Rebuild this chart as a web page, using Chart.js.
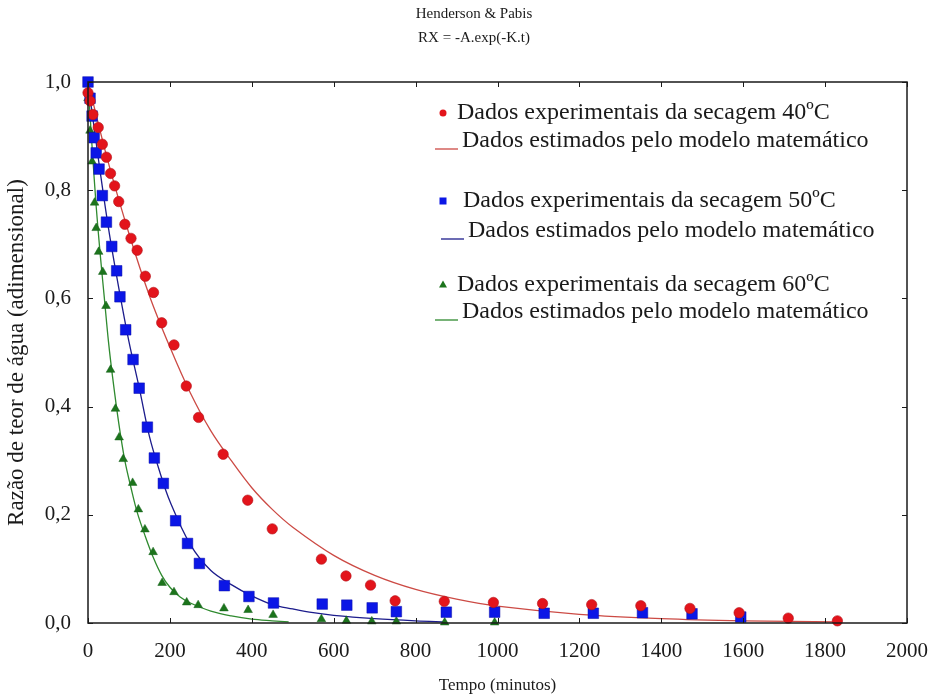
<!DOCTYPE html>
<html>
<head>
<meta charset="utf-8">
<script src="https://cdn.jsdelivr.net/npm/chart.js@4.4.1/dist/chart.umd.min.js"></script>
<style>
  html, body { margin: 0; padding: 0; background: #fff; }
  #wrap { width: 936px; height: 699px; }
</style>
</head>
<body>
<div id="wrap"><canvas id="c" width="936" height="699"></canvas></div>
<script>
// experimental points, 40 C
const redT = [0, 5, 12, 25, 35, 45, 55, 65, 75, 90, 105, 120, 140, 160, 180, 210, 240, 270, 330, 390, 450, 570, 630, 690, 750, 870, 990, 1110, 1230, 1350, 1470, 1590, 1710, 1830]
const redRX = [0.98, 0.965, 0.94, 0.916, 0.885, 0.861, 0.831, 0.808, 0.779, 0.737, 0.711, 0.689, 0.641, 0.611, 0.555, 0.514, 0.438, 0.38, 0.312, 0.227, 0.174, 0.118, 0.087, 0.07, 0.041, 0.04, 0.038, 0.036, 0.034, 0.032, 0.027, 0.019, 0.009, 0.004]

// experimental points, 50 C
const blueT = [0, 5, 10, 15, 20, 27, 35, 45, 58, 70, 78, 92, 110, 125, 145, 162, 184, 214, 243, 272, 333, 393, 453, 572, 632, 694, 753, 875, 993, 1114, 1234, 1354, 1475, 1594]
const blueRX = [1.0, 0.97, 0.937, 0.897, 0.869, 0.839, 0.79, 0.741, 0.696, 0.651, 0.603, 0.542, 0.487, 0.434, 0.362, 0.305, 0.258, 0.189, 0.147, 0.11, 0.069, 0.049, 0.037, 0.035, 0.033, 0.028, 0.021, 0.02, 0.02, 0.018, 0.018, 0.019, 0.017, 0.011]

// experimental points, 60 C
const greenT = [0, 5, 10, 16, 20, 26, 36, 44, 55, 67, 76, 86, 109, 123, 139, 159, 181, 210, 241, 269, 332, 391, 452, 570, 631, 693, 753, 871, 993]
const greenRX = [0.97, 0.91, 0.853, 0.777, 0.73, 0.686, 0.649, 0.586, 0.468, 0.396, 0.343, 0.303, 0.259, 0.21, 0.173, 0.131, 0.074, 0.057, 0.038, 0.033, 0.027, 0.024, 0.015, 0.007, 0.004, 0.003, 0.003, 0.001, 0.001]

// model curves
const redFitT = [0, 50, 100, 150, 200, 250, 300, 350, 400, 450, 500, 600, 700, 800, 900, 1000, 1200, 1400, 1600, 1830]
const redFitRX = [1.0, 0.85, 0.72, 0.605, 0.51, 0.425, 0.355, 0.3, 0.25, 0.21, 0.177, 0.125, 0.088, 0.062, 0.044, 0.031, 0.016, 0.008, 0.004, 0.002]
const blueFitT = [0, 25, 50, 75, 100, 125, 150, 175, 200, 250, 300, 350, 400, 450, 500, 550, 600, 700, 800, 875]
const blueFitRX = [1.0, 0.86, 0.73, 0.62, 0.52, 0.435, 0.345, 0.28, 0.225, 0.145, 0.097, 0.071, 0.05, 0.034, 0.026, 0.019, 0.014, 0.008, 0.004, 0.002]
const greenFitT = [0, 10, 20, 30, 40, 50, 60, 75, 90, 105, 120, 140, 160, 180, 200, 225, 250, 300, 350, 400, 450, 490]
const greenFitRX = [1.0, 0.88, 0.77, 0.68, 0.6, 0.52, 0.455, 0.37, 0.3, 0.25, 0.205, 0.16, 0.12, 0.088, 0.066, 0.048, 0.037, 0.022, 0.013, 0.007, 0.004, 0.002]

const xTicks = [0, 200, 400, 600, 800, 1000, 1200, 1400, 1600, 1800, 2000]
const yTickLabels = ['0,0', '0,2', '0,4', '0,6', '0,8', '1,0']

const titleLines = ['Henderson & Pabis', 'RX = -A.exp(-K.t)']
const xTitle = 'Tempo (minutos)'
const yTitle = 'Razão de teor de água (adimensional)'
const legendTexts = [
    'Dados experimentais da secagem 40ºC',
    'Dados estimados pelo modelo matemático',
    'Dados experimentais da secagem 50ºC',
    'Dados estimados pelo modelo matemático',
    'Dados experimentais da secagem 60ºC',
    'Dados estimados pelo modelo matemático'
]

const RED = '#e3141b', BLUE = '#0b16e6', GREEN = '#1c741c'
const RED_LINE = '#cc4a44', BLUE_LINE = '#1c1c8c', GREEN_LINE = '#2f8a2f'
const INK = '#1a1a1a'
const SERIF = '"Liberation Serif", "DejaVu Serif", serif'

function pts(xs, ys) {
    return xs.map((x, i) => ({x: x, y: ys[i]}))
}

// title, frame, inward ticks and the hand-laid legend
const framePlugin = {
    id: 'frame',
    afterDatasetsDraw(chart) {
        const ctx = chart.ctx
        const a = chart.chartArea
        const x = chart.scales.x, y = chart.scales.y
        ctx.save()

        ctx.fillStyle = INK
        ctx.font = '15px ' + SERIF
        ctx.textAlign = 'center'
        ctx.textBaseline = 'middle'
        ctx.fillText(titleLines[0], 474, 14)
        ctx.fillText(titleLines[1], 474, 38)

        ctx.strokeStyle = INK
        ctx.lineWidth = 1.5
        ctx.strokeRect(a.left, a.top, a.right - a.left, a.bottom - a.top)
        ctx.lineWidth = 1
        ctx.beginPath()
        for (const v of xTicks) {
            const px = Math.round(x.getPixelForValue(v)) + 0.5
            ctx.moveTo(px, a.bottom); ctx.lineTo(px, a.bottom - 5)
            ctx.moveTo(px, a.top); ctx.lineTo(px, a.top + 5)
        }
        for (let i = 0; i < yTickLabels.length; i++) {
            const py = Math.round(y.getPixelForValue(i * 0.2)) + 0.5
            ctx.moveTo(a.left, py); ctx.lineTo(a.left + 5, py)
            ctx.moveTo(a.right, py); ctx.lineTo(a.right - 5, py)
        }
        ctx.stroke()

        // legend
        ctx.font = '24px ' + SERIF
        ctx.textAlign = 'left'
        const rows = [113, 141, 201, 231, 285, 312]
        const markX = [443, 443, 443]
        const textX = [457, 462, 463, 468, 457, 462]
        const lineCol = [RED_LINE, BLUE_LINE, GREEN_LINE]
        for (let g = 0; g < 3; g++) {
            const r1 = rows[g * 2], r2 = rows[g * 2 + 1]
            ctx.fillStyle = INK
            ctx.fillText(legendTexts[g * 2], textX[g * 2], r1)
            ctx.fillText(legendTexts[g * 2 + 1], textX[g * 2 + 1], r2)
            const mx = markX[g]
            if (g == 0) {
                ctx.fillStyle = RED
                ctx.beginPath(); ctx.arc(mx, r1, 3.5, 0, Math.PI * 2); ctx.fill()
            } else if (g == 1) {
                ctx.fillStyle = BLUE
                ctx.fillRect(mx - 3.5, r1 - 3.5, 7, 7)
            } else {
                ctx.fillStyle = GREEN
                ctx.beginPath(); ctx.moveTo(mx, r1 - 4.5); ctx.lineTo(mx + 4, r1 + 2.5); ctx.lineTo(mx - 4, r1 + 2.5); ctx.closePath(); ctx.fill()
            }
            ctx.strokeStyle = lineCol[g]
            ctx.lineWidth = 1.3
            ctx.beginPath()
            ctx.moveTo(textX[g * 2 + 1] - 27, r2 + 8); ctx.lineTo(textX[g * 2 + 1] - 4, r2 + 8)
            ctx.stroke()
        }
        ctx.restore()
    }
}

new Chart(document.getElementById('c'), {
    type: 'scatter',
    data: {
        datasets: [
            {type: 'line', data: pts(redFitT, redFitRX), borderColor: RED_LINE, borderWidth: 1.3, pointRadius: 0, tension: 0.35, fill: false, order: 3, clip: false},
            {type: 'line', data: pts(blueFitT, blueFitRX), borderColor: BLUE_LINE, borderWidth: 1.3, pointRadius: 0, tension: 0.35, fill: false, order: 3, clip: false},
            {type: 'line', data: pts(greenFitT, greenFitRX), borderColor: GREEN_LINE, borderWidth: 1.3, pointRadius: 0, tension: 0.35, fill: false, order: 3, clip: false},
            {data: pts(greenT, greenRX), pointStyle: 'triangle', pointRadius: 5, backgroundColor: GREEN, borderColor: '#14601a', borderWidth: 0.5, order: 2, clip: false},
            {data: pts(blueT, blueRX), pointStyle: 'rect', pointRadius: 7.5, backgroundColor: BLUE, borderColor: '#0a0fa8', borderWidth: 0.5, order: 1, clip: false},
            {data: pts(redT, redRX), pointStyle: 'circle', pointRadius: 5.2, backgroundColor: RED, borderColor: '#b3121a', borderWidth: 0.6, order: 0, clip: false}
        ]
    },
    options: {
        responsive: false,
        animation: false,
        events: [],
        layout: {padding: {top: 82, right: 28, bottom: 0, left: 0}},
        plugins: {
            legend: {display: false},
            tooltip: {enabled: false},
            title: {display: false}
        },
        scales: {
            x: {
                type: 'linear', min: 0, max: 2000,
                afterFit(scale) { scale.height = 76 },
                afterBuildTicks(scale) { scale.ticks = xTicks.map(v => ({value: v})) },
                grid: {display: false},
                border: {display: false},
                ticks: {color: INK, font: {family: SERIF, size: 21}, padding: 8, maxRotation: 0, callback: v => String(v)},
                title: {display: true, text: xTitle, color: INK, font: {family: SERIF, size: 17}, padding: {top: 0, bottom: 3}}
            },
            y: {
                type: 'linear', min: 0, max: 1,
                afterFit(scale) { scale.width = 88 },
                afterBuildTicks(scale) { scale.ticks = yTickLabels.map((t, i) => ({value: i * 0.2})) },
                grid: {display: false},
                border: {display: false},
                ticks: {color: INK, font: {family: SERIF, size: 21}, padding: 9, callback: (v, i) => yTickLabels[i]},
                title: {display: true, text: yTitle, color: INK, font: {family: SERIF, size: 23}, padding: {top: 3, bottom: 0}}
            }
        }
    },
    plugins: [framePlugin]
})
</script>
</body>
</html>
